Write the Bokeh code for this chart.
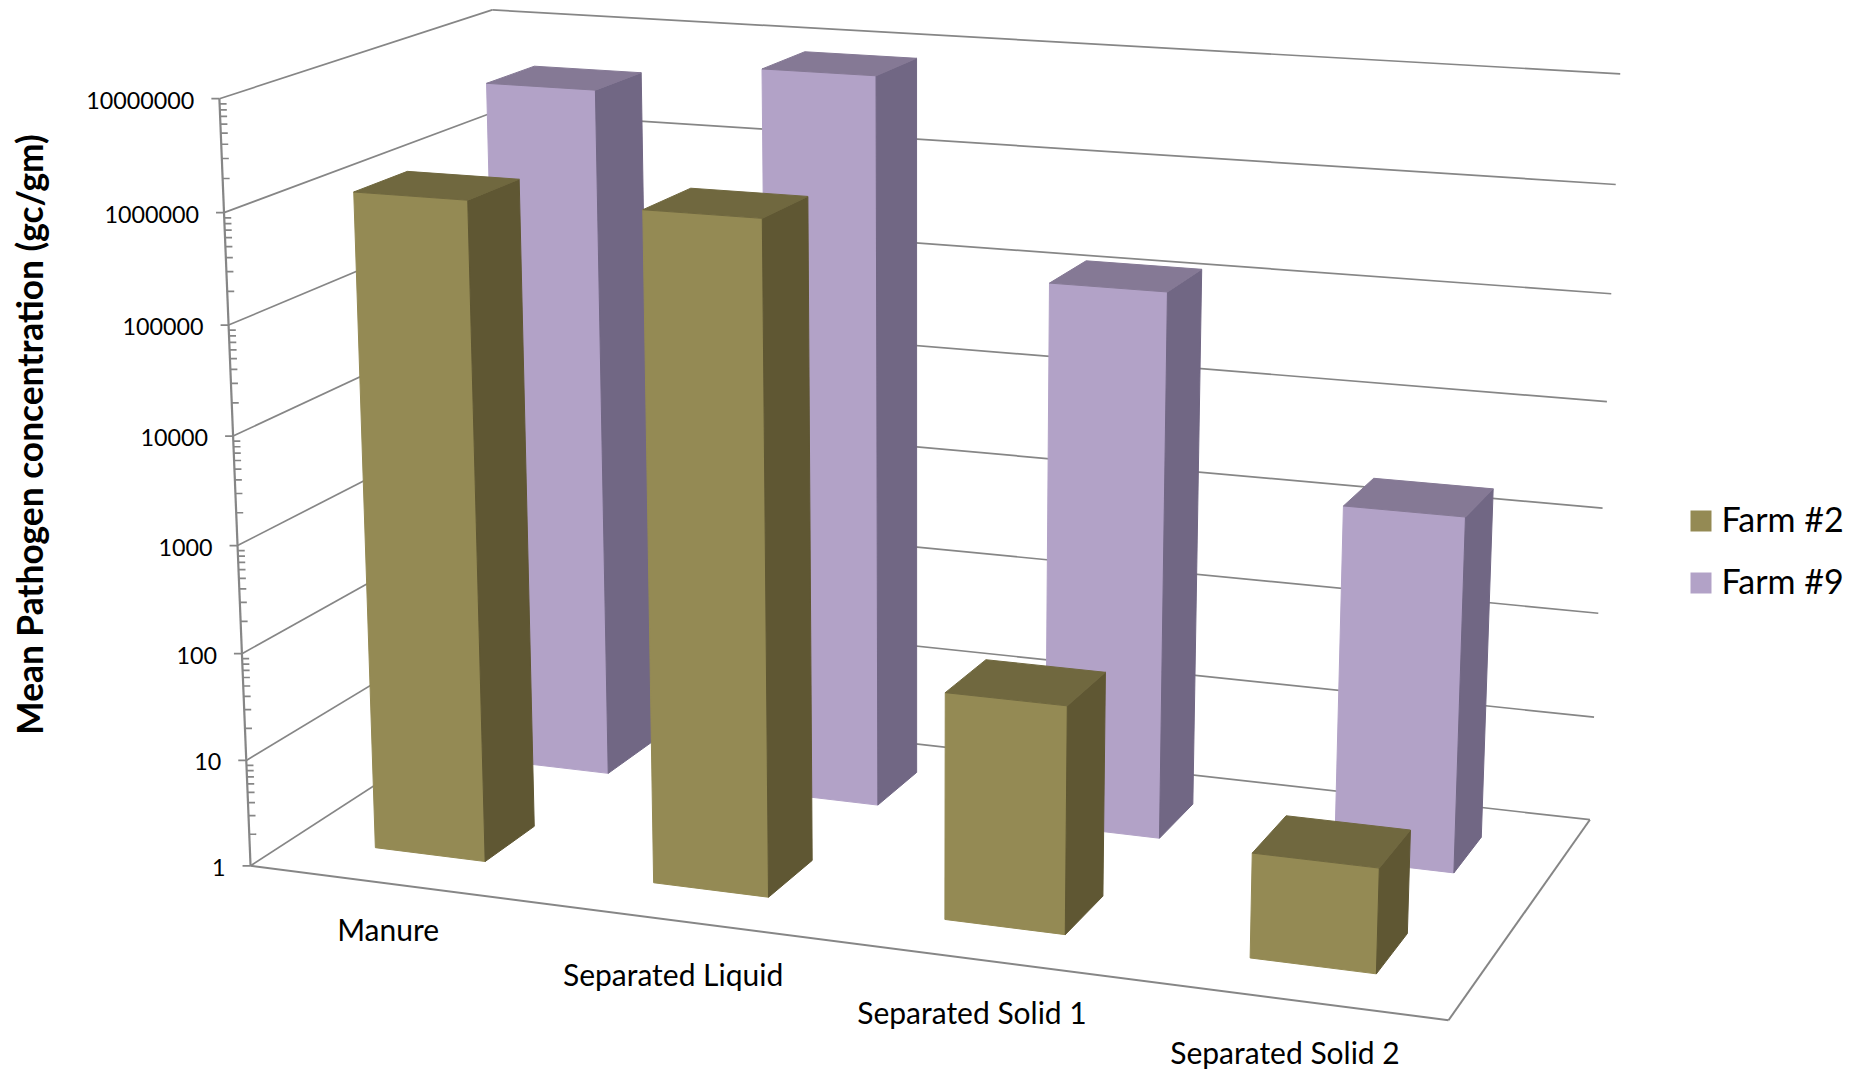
import numpy as np
from bokeh.plotting import figure
from bokeh.models import Range1d
from bokeh.core.properties import value
from bokeh.embed import file_html
from bokeh.resources import INLINE

categories = ["Manure", "Separated Liquid", "Separated Solid 1", "Separated Solid 2"]
farm2 = [1.22e6, 1.3e6, 118, 8.8]
farm9 = [4.2e6, 8.2e6, 1.35e5, 2050]
series_names = ["Farm #2", "Farm #9"]
tick_values = [1, 10, 100, 1000, 10000, 100000, 1000000, 10000000]
tick_labels = ["1", "10", "100", "1000", "10000", "100000", "1000000", "10000000"]
y_title = "Mean Pathogen concentration (gc/gm)"

# camera: box corners (u along categories, v into depth, w up the log axis) to page pixels
box = [(0,0,0),(1,0,0),(1,1,0),(0,1,0),(0,0,1),(0,1,1),(1,1,1)]
page = [(250,864),(1448.7,1020),(1589,819),(508.6,698.7),(218.3,99.3),(492.5,8.5),(1619.5,73.3)]
rows = []
for (u,v,w),(x,y) in zip(box,page):
    rows.append([u,v,w,1,0,0,0,0,-x*u,-x*v,-x*w,-x])
    rows.append([0,0,0,0,u,v,w,1,-y*u,-y*v,-y*w,-y])
P = np.linalg.svd(np.array(rows,float))[2][-1].reshape(3,4)

def proj(u,v,w):
    q = P @ np.array([u,v,w,1.0])
    return q[0]/q[2], q[1]/q[2]

def level(val):
    return np.log10(val)/7.0

BAR_W, BAR_D = 0.40, 0.385
COL = {0:("#948A54","#5F5733","#70683F"), 1:("#B2A2C7","#716784","#857995")}
AXIS = "#868686"

p = figure(width=1850, height=1071, x_range=Range1d(0,1850), y_range=Range1d(1071,0),
           output_backend="svg", toolbar_location=None, min_border=0)
p.axis.visible = False
p.grid.visible = False
p.outline_line_color = None

def seg(a,b,width=1.7):
    p.line([a[0],b[0]],[a[1],b[1]],line_color=AXIS,line_width=width)

# walls and floor
for t in tick_values:
    w = level(t)
    seg(proj(0,0,w),proj(0,1,w))
    seg(proj(0,1,w),proj(1,1,w))
seg(proj(0,0,0),proj(1,0,0),2)
seg(proj(1,0,0),proj(1,1,0),2)
seg(proj(0,0,0),proj(0,0,1),2.2)

# ticks on the value axis
for t in tick_values:
    x,y = proj(0,0,level(t))
    p.line([x-8,x],[y,y],line_color=AXIS,line_width=1.7)
    if t < tick_values[-1]:
        for m in range(2,10):
            mx,my = proj(0,0,level(t*m))
            p.line([mx,mx+7],[my,my],line_color=AXIS,line_width=1.7)

# tick labels
for t,lab in zip(tick_values,tick_labels):
    x,y = proj(0,0,level(t))
    p.text([x-25],[y+1.5],text=[lab],text_align="right",text_baseline="middle",
           text_font=value("Lato"),text_font_size="23.3px",text_color="#000000")

# bars, back series first
def bar(i,j,val):
    front,side,top = COL[j]
    uc,vc = (i+0.5)/4,(j+0.5)/2
    u0,u1 = uc-BAR_W/8,uc+BAR_W/8
    v0,v1 = vc-BAR_D/4,vc+BAR_D/4
    h = level(val)
    faces = [
        ([(u0,v0,0),(u1,v0,0),(u1,v0,h),(u0,v0,h)],front),
        ([(u1,v0,0),(u1,v1,0),(u1,v1,h),(u1,v0,h)],side),
        ([(u0,v0,h),(u1,v0,h),(u1,v1,h),(u0,v1,h)],top),
    ]
    for pts,c in faces:
        xy = [proj(*q) for q in pts]
        p.patch([a for a,_ in xy],[b for _,b in xy],fill_color=c,line_color=c,line_width=1)

for j,vals in [(1,farm9),(0,farm2)]:
    for i,val in enumerate(vals):
        bar(i,j,val)

# category labels
label_x = [387.6,672.6,971.5,1284.5]
label_y = [928.5,973.5,1011,1051]
p.text(label_x,label_y,text=categories,text_align="center",text_baseline="middle",
       text_font=value("Lato"),text_font_size="30px",text_color="#000000")

# value axis title
p.text([29],[434],text=[y_title],text_align="center",text_baseline="middle",angle=np.pi/2,
       text_font=value("Lato"),text_font_style="bold",text_font_size="35.3px",text_color="#000000")

# legend
for k,(name,yc) in enumerate(zip(series_names,[520.5,582.5])):
    p.quad(left=[1690],right=[1711],top=[yc-10.5],bottom=[yc+10.5],fill_color=COL[k][0],line_color=None)
    p.text([1721],[yc-3],text=[name],text_align="left",text_baseline="middle",
           text_font=value("Lato"),text_font_size="34px",text_color="#000000")

open("out.html","w").write(file_html(p,INLINE))
